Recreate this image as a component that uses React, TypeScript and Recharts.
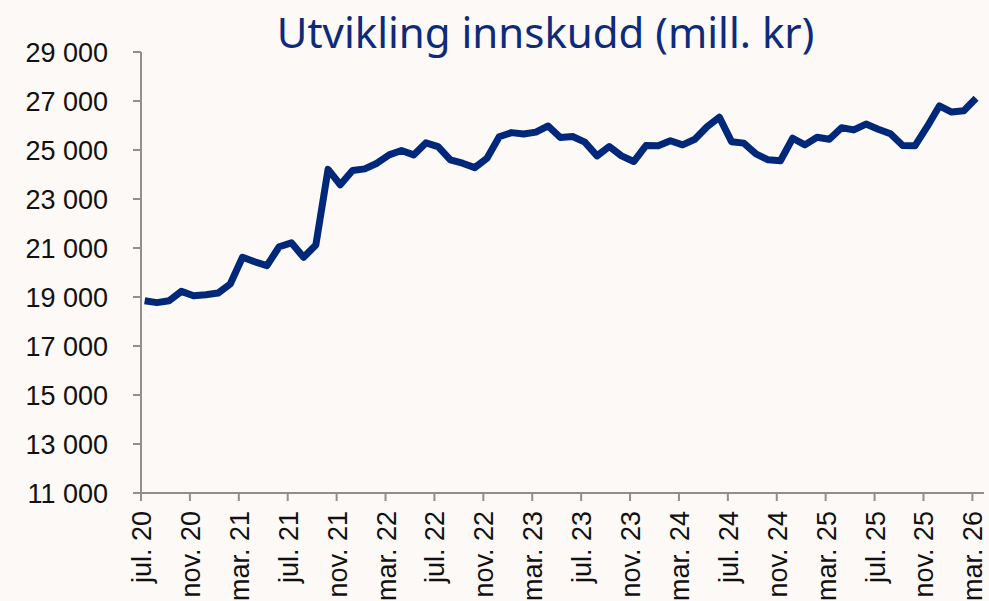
import { LineChart, Line, XAxis, YAxis } from "recharts"

// monthly deposits, jul 2020 .. mar 2026 (mill. kr)
const MONTHS = [
  "jul. 20", "aug. 20", "sep. 20", "okt. 20", "nov. 20", "des. 20",
  "jan. 21", "feb. 21", "mar. 21", "apr. 21", "mai. 21", "jun. 21",
  "jul. 21", "aug. 21", "sep. 21", "okt. 21", "nov. 21", "des. 21",
  "jan. 22", "feb. 22", "mar. 22", "apr. 22", "mai. 22", "jun. 22",
  "jul. 22", "aug. 22", "sep. 22", "okt. 22", "nov. 22", "des. 22",
  "jan. 23", "feb. 23", "mar. 23", "apr. 23", "mai. 23", "jun. 23",
  "jul. 23", "aug. 23", "sep. 23", "okt. 23", "nov. 23", "des. 23",
  "jan. 24", "feb. 24", "mar. 24", "apr. 24", "mai. 24", "jun. 24",
  "jul. 24", "aug. 24", "sep. 24", "okt. 24", "nov. 24", "des. 24",
  "jan. 25", "feb. 25", "mar. 25", "apr. 25", "mai. 25", "jun. 25",
  "jul. 25", "aug. 25", "sep. 25", "okt. 25", "nov. 25", "des. 25",
  "jan. 26", "feb. 26", "mar. 26",
]

const DEPOSITS = [
  18850, 18770, 18850, 19230, 19050, 19090,
  19160, 19530, 20620, 20440, 20280, 21050,
  21210, 20620, 21120, 24210, 23580, 24160,
  24230, 24460, 24800, 24980, 24800, 25290,
  25140, 24600, 24460, 24280, 24660, 25540,
  25710, 25650, 25730, 25980, 25510, 25550,
  25320, 24760, 25140, 24760, 24530, 25180,
  25170, 25380, 25210, 25440, 25950, 26340,
  25340, 25280, 24840, 24600, 24560, 25480,
  25210, 25520, 25440, 25910, 25820, 26060,
  25850, 25660, 25180, 25170, 25950, 26800,
  26550, 26600, 27110,
]

const Y_TICKS = [11000, 13000, 15000, 17000, 19000, 21000, 23000, 25000, 27000, 29000]
const X_TICK_EVERY = 4

// observations sit a little after the start of the month on the date axis
const rows = DEPOSITS.map((v, i) => ({ t: i + 0.3, label: MONTHS[i], value: v }))
const xTicks = MONTHS.map((_, i) => i).filter(i => i % X_TICK_EVERY === 0)

const NAVY = "#00287a"
const AXIS = "#8f8f8f"
const FONT = "'Liberation Sans', Arial, sans-serif"

const fmt = (v: number) => {
  const s = String(v)
  return s.slice(0, s.length - 3) + " " + s.slice(-3)
}

function MonthTick({ x, y, payload }: any) {
  return (
    <g transform={`translate(${x},${y})`}>
      <text
        transform="rotate(-90)"
        x={-8}
        y={10}
        textAnchor="end"
        fontSize={27}
        fontFamily={FONT}
        fill="#111"
      >
        {MONTHS[payload.value]}
      </text>
    </g>
  )
}

export default function App() {
  return (
    <div style={{ position: "absolute", left: 0, top: 0, width: 989, height: 601, background: "#fdf9f6", overflow: "hidden" }}>
      <div
        style={{
          position: "absolute", left: 0, width: 1091, top: 6, textAlign: "center",
          fontFamily: "'Noto Sans', sans-serif", fontSize: 42, color: "#0d2a7b", lineHeight: "52px",
        }}
      >
        Utvikling innskudd (mill. kr)
      </div>
      <LineChart width={989} height={601} data={rows} margin={{ top: 52, right: 5, bottom: 0, left: 0 }}>
        <XAxis
          dataKey="t"
          type="number"
          domain={[0, 68.95]}
          ticks={xTicks}
          interval={0}
          height={108}
          tickSize={8}
          stroke={AXIS}
          strokeWidth={2}
          tick={<MonthTick />}
          allowDataOverflow
        />
        <YAxis
          domain={[11000, 29000]}
          ticks={Y_TICKS}
          interval={0}
          width={141}
          tickSize={8}
          tickMargin={25}
          stroke={AXIS}
          strokeWidth={2}
          tickFormatter={fmt}
          tick={{ fontSize: 27, fontFamily: FONT, fill: "#111" }}
        />
        <Line
          dataKey="value"
          stroke={NAVY}
          strokeWidth={7}
          dot={false}
          strokeLinejoin="round"
          isAnimationActive={false}
        />
      </LineChart>
    </div>
  )
}
